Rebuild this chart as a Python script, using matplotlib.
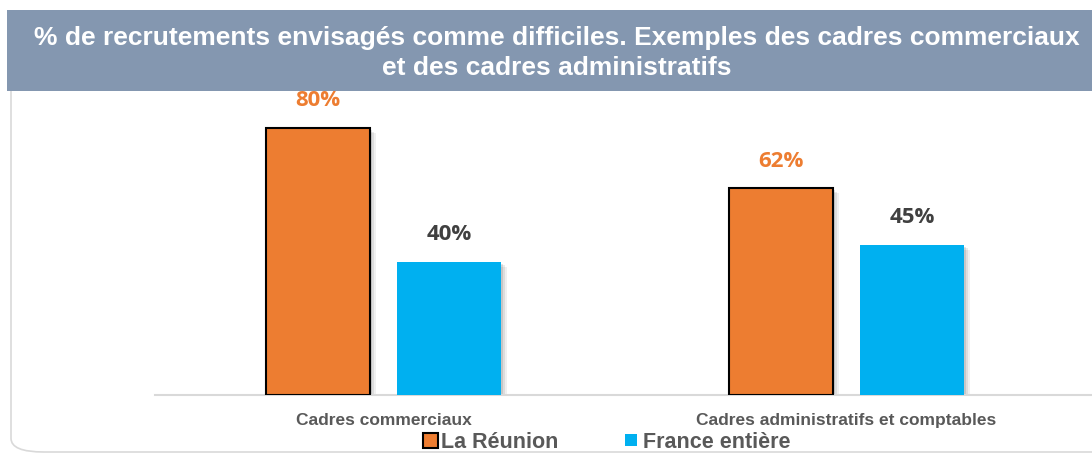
import matplotlib.pyplot as plt
from matplotlib.patches import FancyBboxPatch, Rectangle
from matplotlib.font_manager import fontManager
import numpy as np

categories = ['Cadres commerciaux', 'Cadres administratifs et comptables']
reunion = [80, 62]
france = [40, 45]
series_names = ['La Réunion', 'France entière']
title = ('% de recrutements envisagés comme difficiles. Exemples des cadres commerciaux\n'
         'et des cadres administratifs')

orange = '#ED7D31'
blue = '#00B0F0'
dark = '#404040'

names = {f.name for f in fontManager.ttflist}
narrow = 'Liberation Sans Narrow' if 'Liberation Sans Narrow' in names else 'Liberation Sans'

W, H = 1092, 454
fig = plt.figure(figsize=(W / 100, H / 100), dpi=100)

# panel border (rounded), top part hidden by the title band
fig.patches.append(FancyBboxPatch((11 / W, 2 / H), 1.2, (H - 32) / H,
                                  boxstyle='round,pad=0,rounding_size=0.03',
                                  transform=fig.transFigure, fc='white', ec='#D9D9D9', lw=1.2, zorder=0))
# title band
fig.patches.append(Rectangle((7 / W, 1 - 91 / H), 1, 81 / H, transform=fig.transFigure,
                             fc='#8497B0', ec='none', zorder=1))
fig.text(557 / W, 1 - 53 / H, title, ha='center', va='center', color='white', fontsize=19,
         fontweight='bold', family='Liberation Sans', linespacing=1.28, zorder=3)

# axes: baseline at y=395px, group 1 centred at x=383.5px, 463px per group
x0, spacing = 383.5, 463
left = 155
xmin = (left - x0) / spacing
xmax = (W - x0) / spacing
ymax = 90
px_per = 267 / 80
ax = fig.add_axes([left / W, (H - 395) / H, (W - left) / W, ymax * px_per / H])
ax.set_zorder(2)
ax.patch.set_alpha(0)

x = np.arange(len(categories))
bw = 0.2246
off = 0.142

# soft shadow
for k, a in enumerate([0.10, 0.08, 0.06]):
    dx = (2 + 2 * k) / spacing
    dy = (2 + 1.5 * k) / px_per
    for xs, vals in ((x - off, reunion), (x + off, france)):
        ax.bar(xs + dx, np.array(vals) - dy, bw, bottom=0, color='black', alpha=a, lw=0, zorder=1)

ax.bar(x - off, reunion, bw, color=orange, edgecolor='black', lw=1.5, zorder=3)
ax.bar(x + off, france, bw, color=blue, lw=0, zorder=3)

for xi, v in zip(x - off, reunion):
    ax.text(xi, v + 27 / px_per, f'{v}%', ha='center', va='center', color=orange,
            fontsize=16, fontweight='bold', family='Open Sans')
for xi, v in zip(x + off, france):
    ax.text(xi, v + 27 / px_per, f'{v}%', ha='center', va='center', color=dark,
            fontsize=16, fontweight='bold', family='Open Sans')

ax.set_xlim(xmin, xmax)
ax.set_ylim(0, ymax)
for s in ['top', 'right', 'left']:
    ax.spines[s].set_visible(False)
ax.spines['bottom'].set_color('#D9D9D9')
ax.spines['bottom'].set_linewidth(1.5)
ax.set_yticks([])
ax.set_xticks(x)
ax.set_xticklabels(categories, fontsize=12.5, fontweight='bold', color='#595959', family=narrow)
ax.tick_params(axis='x', length=0, pad=13)

# legend
fig.patches.append(Rectangle((423 / W, 1 - 448 / H), 15 / W, 15 / H, transform=fig.transFigure,
                             fc=orange, ec='black', lw=1.5, zorder=3))
fig.text(441 / W, 1 - 442 / H, series_names[0], ha='left', va='center', fontsize=15.5,
         fontweight='bold', color='#595959', family=narrow)
fig.patches.append(Rectangle((625 / W, 1 - 446 / H), 12 / W, 12 / H, transform=fig.transFigure,
                             fc=blue, ec='none', zorder=3))
fig.text(643 / W, 1 - 442 / H, series_names[1], ha='left', va='center', fontsize=15.5,
         fontweight='bold', color='#595959', family=narrow)

fig.savefig('out.png', dpi=100)
